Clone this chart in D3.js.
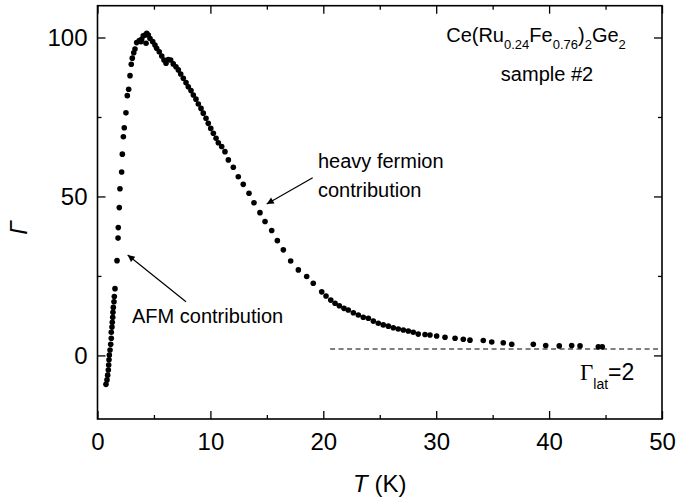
<!DOCTYPE html>
<html>
<head>
<meta charset="utf-8">
<script src="https://cdn.jsdelivr.net/npm/d3@7/dist/d3.min.js"></script>
<style>
  html, body { margin: 0; padding: 0; background: #fff; }
  svg { display: block; font-family: "Liberation Sans", Arial, sans-serif; }
  .tick text { font-size: 24px; fill: #000; }
  .ax .domain { stroke: none; }
  .ax line { stroke: #000; stroke-width: 1.3; }
</style>
</head>
<body>
<svg id="chart" width="678" height="499"></svg>
<script>
// measured points: temperature (K) and Grüneisen ratio
const tempK = [
  0.75, 0.84, 0.90, 0.96, 0.99, 1.02, 1.05, 1.11, 1.17, 1.22, 1.22, 1.28, 1.31, 1.35, 1.37, 1.40,
  1.46, 1.49, 1.55, 1.73, 1.82, 1.84, 1.93, 1.99, 2.14, 2.20, 2.29, 2.37, 2.52, 2.64, 2.76, 2.88,
  2.99, 3.08, 3.21, 3.32, 3.47, 3.70, 3.85, 3.91, 4.05, 4.21, 4.30, 4.36, 4.50, 4.65, 4.89, 5.09,
  5.24, 5.47, 5.69, 5.89, 6.07, 6.27, 6.48, 6.71, 6.95, 7.16, 7.37, 7.60, 7.84, 8.04, 8.28, 8.49,
  8.72, 8.93, 9.17, 9.37, 9.61, 9.81, 10.03, 10.26, 10.50, 10.70, 11.00, 11.29, 11.59, 12.03,
  12.47, 12.91, 13.42, 13.86, 14.39, 14.84, 15.43, 15.93, 16.46, 17.11, 17.79, 18.53, 19.11,
  19.86, 20.24, 20.66, 21.04, 21.42, 21.83, 22.21, 22.66, 23.10, 23.54, 23.99, 24.43, 24.87,
  25.31, 25.76, 26.20, 26.64, 27.09, 27.53, 27.97, 28.41, 29.01, 29.45, 30.04, 30.78, 31.67,
  32.40, 32.99, 34.17, 34.92, 35.94, 36.69, 38.60, 39.70, 40.90, 42.00, 42.74, 44.36, 44.71
];
const gamma = [
  -9.1, -7.7, -6.2, -4.6, -3.0, -1.4, 0.1, 1.7, 3.5, 5.4, 7.3, 8.9, 10.4, 12.0, 13.6, 15.1,
  16.9, 18.5, 21.0, 29.8, 36.9, 40.2, 46.5, 52.4, 57.7, 63.3, 68.8, 71.6, 76.3, 81.7, 83.7, 88.0,
  91.6, 93.5, 95.2, 96.4, 98.4, 99.0, 98.7, 99.4, 100.5, 100.8, 98.2, 101.3, 100.8, 99.7, 98.7, 97.6,
  96.6, 95.5, 94.2, 92.9, 91.9, 93.1, 92.9, 91.7, 90.8, 89.8, 88.5, 87.2, 85.8, 84.5, 83.3, 81.9,
  80.6, 79.1, 77.7, 76.2, 74.6, 73.0, 71.4, 69.9, 68.3, 66.9, 65.7, 64.1, 61.5, 59.2,
  56.2, 53.8, 51.0, 48.0, 44.9, 42.1, 39.3, 36.1, 33.2, 29.7, 26.9, 24.8, 22.7,
  20.0, 18.7, 17.4, 16.4, 15.6, 14.8, 14.3, 13.4, 12.7, 12.0, 11.7, 10.8, 10.1,
  9.6, 9.2, 8.7, 8.3, 8.0, 7.7, 7.3, 6.7, 6.6, 6.4, 6.1, 5.7, 5.4,
  5.1, 4.8, 4.7, 4.2, 4.0, 3.5, 3.5, 3.1, 3.0, 3.1, 3.0, 2.7, 2.7
];
const xMajorTicks = [0, 10, 20, 30, 40, 50];
const xMinorTicks = [5, 15, 25, 35, 45];
const yMajorTicks = [0, 50, 100];
const yMinorTicks = [25, 75];
const gammaLat = 2;
const latLineFrom = 20.6;

const svg = d3.select("#chart");
const M = { left: 97.5, right: 662, top: 5.7, bottom: 419 };

const x = d3.scaleLinear().domain([0, 50]).range([M.left, M.right]);
const y = d3.scaleLinear().domain([-20, 110]).range([M.bottom, M.top]);

// frame
svg.append("rect")
  .attr("x", M.left).attr("y", M.top)
  .attr("width", M.right - M.left).attr("height", M.bottom - M.top)
  .attr("fill", "none").attr("stroke", "#000").attr("stroke-width", 1.6);

// ticks all inward, labels only bottom/left
function addAxis(axis, tr, vals, size, labels, pad) {
  return svg.append("g").attr("class", "ax").attr("transform", tr)
    .call(axis.tickValues(vals).tickSize(size).tickSizeOuter(0).tickPadding(pad || 0)
      .tickFormat(labels ? d3.format("d") : ""));
}
addAxis(d3.axisBottom(x), `translate(0,${M.bottom})`, xMajorTicks, -8, true, 14);
addAxis(d3.axisBottom(x), `translate(0,${M.bottom})`, xMinorTicks, -4, false);
addAxis(d3.axisTop(x), `translate(0,${M.top})`, xMajorTicks, -8, false);
addAxis(d3.axisTop(x), `translate(0,${M.top})`, xMinorTicks, -4, false);
addAxis(d3.axisLeft(y), `translate(${M.left},0)`, yMajorTicks, -8, true, 10);
addAxis(d3.axisLeft(y), `translate(${M.left},0)`, yMinorTicks, -4, false);
addAxis(d3.axisRight(y), `translate(${M.right},0)`, yMajorTicks, -8, false);
addAxis(d3.axisRight(y), `translate(${M.right},0)`, yMinorTicks, -4, false);
svg.selectAll(".ax .tick text").attr("font-family", "Liberation Sans, Arial, sans-serif");

// Γ_lat reference line
svg.append("path")
  .datum([[latLineFrom, gammaLat], [50, gammaLat]])
  .attr("d", d3.line().x(d => x(d[0])).y(d => y(d[1])))
  .attr("stroke", "#000").attr("stroke-width", 1.1)
  .attr("stroke-dasharray", "5,3.5").attr("fill", "none");

// data points
const pts = tempK.map((t, i) => ({ t, g: gamma[i] }));
svg.append("g").selectAll("circle")
  .data(pts)
  .join("circle")
  .attr("cx", d => x(d.t))
  .attr("cy", d => y(d.g))
  .attr("r", 2.8)
  .attr("fill", "#000");

// axis titles
svg.append("text")
  .attr("transform", "translate(27,228) rotate(-90)")
  .attr("text-anchor", "middle")
  .attr("font-size", 24).attr("font-style", "italic")
  .text("Γ");

const xt = svg.append("text")
  .attr("x", (M.left + M.right) / 2).attr("y", 492)
  .attr("text-anchor", "middle").attr("font-size", 24);
xt.append("tspan").attr("font-style", "italic").text("T");
xt.append("tspan").text(" (K)");

// compound label
const comp = svg.append("text")
  .attr("x", 536).attr("y", 42)
  .attr("text-anchor", "middle").attr("font-size", 20);
const parts = [["Ce(Ru", 0], ["0.24", 1], ["Fe", 0], ["0.76", 1], [")", 0], ["2", 1], ["Ge", 0], ["2", 1]];
let sub = false;
parts.forEach(([s, isSub]) => {
  const sp = comp.append("tspan").text(s);
  if (isSub && !sub) { sp.attr("dy", 7).attr("font-size", 13); sub = true; }
  else if (isSub) { sp.attr("font-size", 13); }
  else if (sub) { sp.attr("dy", -7); sub = false; }
});
svg.append("text")
  .attr("x", 547).attr("y", 81)
  .attr("text-anchor", "middle").attr("font-size", 20)
  .text("sample #2");

// annotations
svg.append("defs").append("marker")
  .attr("id", "ah").attr("viewBox", "0 0 10 10")
  .attr("refX", 10).attr("refY", 5)
  .attr("markerWidth", 9).attr("markerHeight", 7)
  .attr("markerUnits", "userSpaceOnUse")
  .attr("orient", "auto")
  .append("path").attr("d", "M0,0 L10,5 L0,10 Z").attr("fill", "#000");

function arrow(x1, y1, x2, y2) {
  svg.append("line")
    .attr("x1", x1).attr("y1", y1).attr("x2", x2).attr("y2", y2)
    .attr("stroke", "#000").attr("stroke-width", 1.2)
    .attr("marker-end", "url(#ah)");
}
arrow(186, 301.7, 127.7, 255);
arrow(312.7, 177.7, 266.7, 204);

svg.append("text").attr("x", 132).attr("y", 323).attr("font-size", 20).text("AFM contribution");
svg.append("text").attr("x", 318).attr("y", 168).attr("font-size", 20).text("heavy fermion");
svg.append("text").attr("x", 318).attr("y", 197).attr("font-size", 20).text("contribution");

const lat = svg.append("text").attr("x", 580).attr("y", 380).attr("font-size", 23);
lat.append("tspan").attr("font-family", "Liberation Serif, serif").text("Γ");
lat.append("tspan").attr("font-size", 14).attr("dy", 9).text("lat");
lat.append("tspan").attr("dy", -9).text("=2");
</script>
</body>
</html>
